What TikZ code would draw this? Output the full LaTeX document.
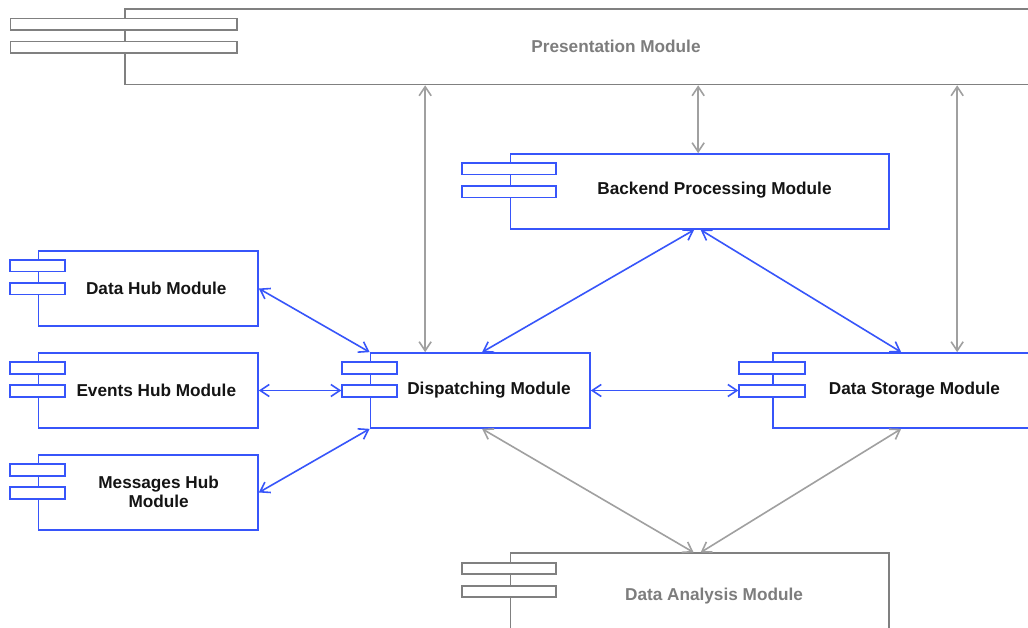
\documentclass[tikz,border=0pt]{standalone}
\usepackage{fontspec}
\setmainfont{Liberation Sans}
\usetikzlibrary{arrows.meta,calc}
\definecolor{cblue}{RGB}{55,85,250}
\definecolor{cgray}{RGB}{128,128,128}
\definecolor{agray}{RGB}{160,160,160}
\definecolor{tgray}{RGB}{125,125,125}
\tikzset{
  comp/.style={draw, line width=1.7pt, fill=white, inner sep=0pt, minimum height=75pt},
  bar/.style={draw, line width=1.7pt, fill=white, inner sep=0pt, minimum height=11.5pt},
  lbl/.style={font=\fontsize{17.2}{19.4}\selectfont\bfseries, inner sep=0pt, align=center, text=black!92},
  barb/.tip={Straight Barb[length=9pt,width=12pt]},
  conn/.style={line width=1.6pt, barb-barb},
  blueline/.style={conn, draw=cblue},
  grayline/.style={conn, draw=agray},
}
\begin{document}
\begin{tikzpicture}[x=1pt,y=-1pt]
\useasboundingbox (0,0) rectangle (1028,628);
\clip (0,0) rectangle (1028,628);
\fill[white] (0,0) rectangle (1028,628);

% ---------- component boxes ----------
\node[comp, draw=cgray, minimum width=985pt, minimum height=75.5pt] (pres) at (617.5,46.75) {};
\node[bar, draw=cgray, minimum width=226.5pt] (presA) at ($(pres.north west)+(-0.5,16)$) {};
\node[bar, draw=cgray, minimum width=226.5pt] (presB) at ($(pres.north west)+(-0.5,39)$) {};
\node[lbl, text=tgray] (presT) at (616,46) {Presentation Module};

\node[comp, draw=cblue, minimum width=378.5pt] (back) at (699.75,191.5) {};
\node[bar, draw=cblue, minimum width=94pt] (backA) at ($(back.north west)+(-0.5,15.75)$) {};
\node[bar, draw=cblue, minimum width=94pt] (backB) at ($(back.north west)+(-0.5,38.75)$) {};
\node[lbl] (backT) at (714.5,190) {Backend Processing Module};

\node[comp, draw=cblue, minimum width=219.5pt] (dh) at (148.25,288.5) {};
\node[bar, draw=cblue, minimum width=55pt] (dhA) at ($(dh.north west)+(0,15.75)$) {};
\node[bar, draw=cblue, minimum width=55pt] (dhB) at ($(dh.north west)+(0,38.75)$) {};
\node[lbl] (dhT) at (156.3,288) {Data Hub Module};

\node[comp, draw=cblue, minimum width=219.5pt] (eh) at (148.25,390.5) {};
\node[bar, draw=cblue, minimum width=55pt] (ehA) at ($(eh.north west)+(0,15.75)$) {};
\node[bar, draw=cblue, minimum width=55pt] (ehB) at ($(eh.north west)+(0,38.75)$) {};
\node[lbl] (ehT) at (156.3,390) {Events Hub Module};

\node[comp, draw=cblue, minimum width=219.5pt] (mh) at (148.25,492.5) {};
\node[bar, draw=cblue, minimum width=55pt] (mhA) at ($(mh.north west)+(0,15.75)$) {};
\node[bar, draw=cblue, minimum width=55pt] (mhB) at ($(mh.north west)+(0,38.75)$) {};
\node[lbl] (mhT) at (158.6,492) {Messages Hub\\Module};

\node[comp, draw=cblue, minimum width=219.5pt] (disp) at (480.25,390.5) {};
\node[bar, draw=cblue, minimum width=55pt] (dispA) at ($(disp.north west)+(0,15.75)$) {};
\node[bar, draw=cblue, minimum width=55pt] (dispB) at ($(disp.north west)+(0,38.75)$) {};
\node[lbl] (dispT) at (489,390) {Dispatching Module};

\node[comp, draw=cblue, minimum width=272pt] (ds) at (909,390.5) {};
\node[bar, draw=cblue, minimum width=66pt] (dsA) at ($(ds.north west)+(0,15.75)$) {};
\node[bar, draw=cblue, minimum width=66pt] (dsB) at ($(ds.north west)+(0,38.75)$) {};
\node[lbl] (dsT) at (914.5,390) {Data Storage Module};

\node[comp, draw=cgray, minimum width=378.5pt, minimum height=91.5pt] (da) at (699.75,599.05) {};
\node[bar, draw=cgray, minimum width=94pt] (daA) at ($(da.north west)+(-0.5,16)$) {};
\node[bar, draw=cgray, minimum width=94pt] (daB) at ($(da.north west)+(-0.5,39)$) {};
\node[lbl, text=tgray] (daT) at (714,596) {Data Analysis Module};

% ---------- connectors ----------
\draw[grayline] ($(pres.south west)+(301,0)$) -- ($(disp.north west)+(55.5,0)$);
\draw[grayline] ($(pres.south west)+(574,0)$) -- ($(back.north west)+(188.5,0)$);
\draw[grayline] ($(pres.south west)+(833,0)$) -- ($(ds.north west)+(185,0)$);

\draw[blueline] ($(back.south west)+(184.5,0)$) -- ($(disp.north west)+(112.5,0)$);
\draw[blueline] ($(back.south west)+(191,0)$) -- ($(ds.north west)+(129,0)$);

\draw[blueline] (dh.east) -- (disp.north west);
\draw[blueline] (eh.east) -- (eh.east -| dispB.west);
\draw[blueline] (mh.east) -- (disp.south west);
\draw[blueline] (disp.east) -- (disp.east -| dsB.west);

\draw[grayline] ($(disp.south west)+(112.5,0)$) -- ($(da.north west)+(184,0)$);
\draw[grayline] ($(ds.south west)+(129,0)$) -- ($(da.north west)+(191,0)$);
\end{tikzpicture}
\end{document}
